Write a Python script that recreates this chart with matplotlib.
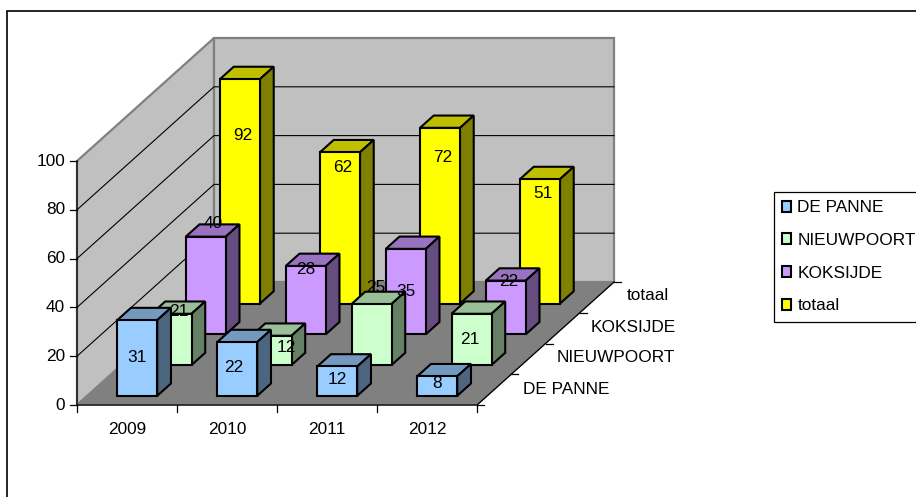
import matplotlib
matplotlib.use('Agg')
import matplotlib.pyplot as plt
from matplotlib.patches import Patch, Polygon, Rectangle

years = ['2009', '2010', '2011', '2012']
series = ['DE PANNE', 'NIEUWPOORT', 'KOKSIJDE', 'totaal']
de_panne = [31, 22, 12, 8]
nieuwpoort = [21, 12, 25, 21]
koksijde = [40, 28, 35, 22]
totaal = [92, 62, 72, 51]
y_ticks = [0, 20, 40, 60, 80, 100]

values = [de_panne, nieuwpoort, koksijde, totaal]
front_colors = ['#99CCFF', '#CCFFCC', '#CC99FF', '#FFFF00']
top_colors = ['#7399BF', '#99BF99', '#9973BF', '#BFBF00']
side_colors = ['#4D6680', '#668066', '#664D80', '#808000']

# where excel put the data labels, they are not centred on the bars
label_x = [[137, 234, 337, 437], [179, 286, 376, 470], [213, 306, 406, 509], [243, 343, 443, 543]]
label_y = [[357, 367, 379, 384], [311, 347, 287, 339], [223, 270, 291, 282], [135, 167, 158, 193]]
# same for the depth axis names
depth_label_x = [566, 616, 633, 648]
depth_label_y = [389, 357, 327, 296]

# oblique projection, all in image pixels
X0, Y0 = 77, 405
CAT_W = 100
PX_PER_UNIT = 2.44
DEPTH_X, DEPTH_Y = 137 / 4, 123 / 4
BAR_W = 0.4
FS = 12.4


def proj(cat, depth, val=0):
    return (X0 + cat * CAT_W + depth * DEPTH_X,
            Y0 - depth * DEPTH_Y - val * PX_PER_UNIT)


def face(ax, pts, color, ec='black', lw=1.5, z=3):
    ax.add_patch(Polygon(pts, closed=True, fc=color, ec=ec, lw=lw, joinstyle='miter', zorder=z))


def bar(ax, cat, depth, val, i):
    c0, c1 = cat + 0.5 - BAR_W / 2, cat + 0.5 + BAR_W / 2
    d0, d1 = depth + 0.5 - BAR_W * 0.5, depth + 0.5 + BAR_W * 0.5
    face(ax, [proj(c0, d0, val), proj(c1, d0, val), proj(c1, d1, val), proj(c0, d1, val)], top_colors[i])
    face(ax, [proj(c1, d0, 0), proj(c1, d1, 0), proj(c1, d1, val), proj(c1, d0, val)], side_colors[i])
    face(ax, [proj(c0, d0, 0), proj(c1, d0, 0), proj(c1, d0, val), proj(c0, d0, val)], front_colors[i])


fig = plt.figure(figsize=(9.16, 4.97), dpi=100)
plt.rcParams['font.family'] = ['Liberation Sans', 'DejaVu Sans']
ax = fig.add_axes([0, 0, 1, 1])
ax.set_xlim(0, 916)
ax.set_ylim(497, 0)
ax.axis('off')

# outer chart frame, runs off the picture on the right and at the bottom
ax.add_patch(Rectangle((6.5, 11), 920, 500, fc='white', ec='black', lw=1.2, zorder=0))

# walls and floor
n_cat, n_ser = len(years), len(series)
top = y_ticks[-1]
face(ax, [proj(0, 0), proj(0, n_ser), proj(0, n_ser, top), proj(0, 0, top)], '#C0C0C0', '#808080', 1.6, 1)
face(ax, [proj(0, n_ser), proj(n_cat, n_ser), proj(n_cat, n_ser, top), proj(0, n_ser, top)], '#C0C0C0', '#808080', 1.6, 1)
face(ax, [proj(0, 0), proj(n_cat, 0), proj(n_cat, n_ser), proj(0, n_ser)], '#808080', '#808080', 1, 1)

for t in y_ticks[1:-1]:
    a, b, c = proj(0, 0, t), proj(0, n_ser, t), proj(n_cat, n_ser, t)
    ax.plot([a[0], b[0], c[0]], [a[1], b[1], c[1]], color='black', lw=0.8, zorder=2)

# axes and ticks
a, b, c = proj(0, 0, top), proj(0, 0), proj(n_cat, 0)
d = proj(n_cat, n_ser)
ax.plot([a[0], b[0], c[0], d[0]], [a[1], b[1], c[1], d[1]], color='black', lw=0.9, zorder=2)
for t in y_ticks:
    x, y = proj(0, 0, t)
    ax.plot([x - 7, x], [y, y], color='black', lw=0.9, zorder=2)
    ax.text(x - 12, y, str(t), ha='right', va='center', fontsize=FS)
for i in range(n_cat + 1):
    x, y = proj(i, 0)
    ax.plot([x, x], [y, y + 7], color='black', lw=0.9, zorder=2)
for i, yr in enumerate(years):
    x, y = proj(i + 0.5, 0)
    ax.text(x, y + 25, yr, ha='center', va='center', fontsize=FS)
for i in range(n_ser + 1):
    x, y = proj(n_cat, i)
    ax.plot([x, x + 7], [y, y], color='black', lw=0.9, zorder=2)
for i, s in enumerate(series):
    ax.text(depth_label_x[i], depth_label_y[i], s, ha='center', va='center', fontsize=FS)

# bars, back row first
for i in range(n_ser - 1, -1, -1):
    for j in range(n_cat):
        bar(ax, j, i, values[i][j], i)

for i in range(n_ser):
    for j in range(n_cat):
        ax.text(label_x[i][j], label_y[i][j], str(values[i][j]), ha='center', va='center',
                fontsize=FS, zorder=5)

# legend
handles = [Patch(fc=front_colors[i], ec='black', lw=1.5, label=series[i]) for i in range(n_ser)]
leg = ax.legend(handles=handles, loc='upper left', bbox_to_anchor=(774 / 916, 1 - 192 / 497),
                bbox_transform=ax.transAxes, borderaxespad=0, fontsize=FS, handlelength=0.52,
                handleheight=0.6, handletextpad=0.35, labelspacing=1.03, borderpad=0.48,
                fancybox=False, framealpha=1, edgecolor='black')
leg.get_frame().set_linewidth(0.9)

fig.savefig('out.png', dpi=100)
